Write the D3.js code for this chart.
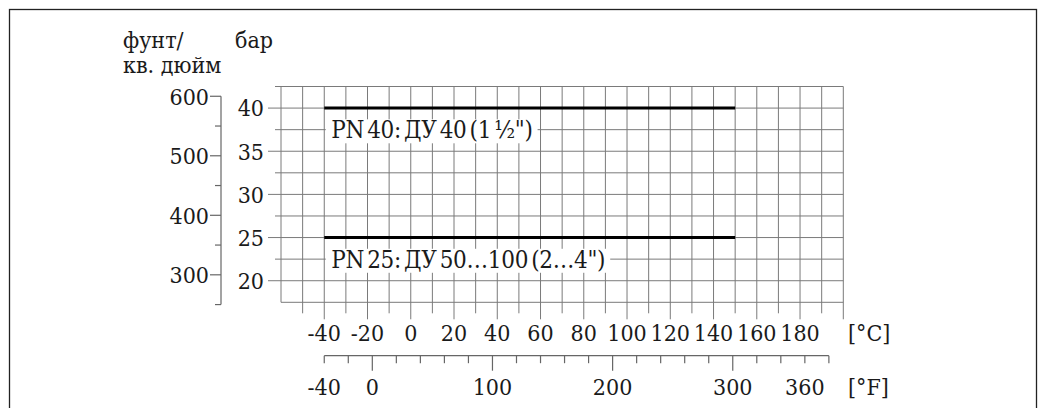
<!DOCTYPE html>
<html>
<head>
<meta charset="utf-8">
<script src="https://cdn.jsdelivr.net/npm/d3@7"></script>
<style>
  html, body { margin: 0; padding: 0; background: #fff; }
  svg text { font-family: "DejaVu Serif", serif; font-stretch: condensed; fill: #1a1a1a; }
</style>
</head>
<body>
<svg id="chart" width="1039" height="408"></svg>
<script>
// ---- data ----
const tempsC = [-40, 150];
const pn40Bar = [40, 40];
const pn25Bar = [25, 25];
const seriesLabels = ["PN 40: ДУ 40 (1 ½\")", "PN 25: ДУ 50…100 (2…4\")"];
const cTickLabels = [-40, -20, 0, 20, 40, 60, 80, 100, 120, 140, 160, 180];
const fTickLabels = [-40, 0, 100, 200, 300, 360];
const fMajorTicks = [0, 100, 200, 300];
const psiTickLabels = [300, 400, 500, 600];
const barTickLabels = [20, 25, 30, 35, 40];
const unitPsi = ["фунт/", "кв. дюйм"];
const unitBar = "бар";
const unitC = "[°C]";
const unitF = "[°F]";

// ---- layout ----
const svg = d3.select("#chart");
const PSI_PER_BAR = 14.5038;
const x = d3.scaleLinear().domain([-60, 200]).range([281, 843.3]);
const y = d3.scaleLinear().domain([17.5, 42.5]).range([302.3, 86.5]);
const xF = f => x((f - 32) * 5 / 9);
const yPsi = p => y(p / PSI_PER_BAR);
const gridCol = "#7a7a7a";
const TICK_FS = 23;

// frame
svg.append("rect").attr("x", 9.5).attr("y", 9.5).attr("width", 1027).attr("height", 430)
  .attr("fill", "none").attr("stroke", "#222").attr("stroke-width", 1.3);

// grid vertical
const vVals = d3.range(-60, 200.1, 10);
const g = svg.append("g");
g.selectAll("line.v").data(vVals).join("line")
  .attr("x1", d => x(d)).attr("x2", d => x(d))
  .attr("y1", y(42.5))
  .attr("y2", d => d === -60 ? y(17.5) : y(17.5) + (d % 20 === 0 ? 17 : 11))
  .attr("stroke", gridCol).attr("stroke-width", 1);
// grid horizontal
const hVals = d3.range(17.5, 42.6, 2.5);
g.selectAll("line.h").data(hVals).join("line")
  .attr("y1", d => y(d)).attr("y2", d => y(d))
  .attr("x1", d => d === 17.5 ? x(-60) : x(-60) - (d % 5 === 0 ? 13 : 6))
  .attr("x2", x(200))
  .attr("stroke", gridCol).attr("stroke-width", 1);

// series lines
const line = d3.line().x(d => x(d[0])).y(d => y(d[1]));
[pn40Bar, pn25Bar].forEach(vals => {
  svg.append("path").datum(tempsC.map((t, i) => [t, vals[i]]))
    .attr("d", line).attr("fill", "none").attr("stroke", "#000").attr("stroke-width", 3);
});

// series labels with white background
[[pn40Bar, 0], [pn25Bar, 1]].forEach(([vals, i]) => {
  const t = svg.append("text").attr("x", x(tempsC[0]) + 7).attr("y", y(vals[0] - 2.5))
    .attr("dy", "0.36em").attr("font-size", 24).attr("word-spacing", -3.5).attr("letter-spacing", -0.3)
    .text(seriesLabels[i]);
  const bb = t.node().getBBox();
  svg.insert("rect", () => t.node())
    .attr("x", x(tempsC[0]) + 1.5).attr("y", bb.y + 3)
    .attr("width", bb.x + bb.width + 5 - x(tempsC[0]) - 1.5).attr("height", bb.height - 4)
    .attr("fill", "#fff");
});

// bar axis labels
svg.selectAll("text.bar").data(barTickLabels).join("text")
  .attr("x", 264).attr("y", d => y(d)).attr("dy", "0.36em")
  .attr("text-anchor", "end").attr("font-size", TICK_FS).text(d => d);

// psi axis
const psiTicks = d3.range(250, 601, 50);
svg.append("line").attr("x1", 221).attr("x2", 221)
  .attr("y1", yPsi(600)).attr("y2", yPsi(250)).attr("stroke", "#666").attr("stroke-width", 1.2);
svg.selectAll("line.psi").data(psiTicks).join("line")
  .attr("x1", d => 221 - (d % 100 === 0 ? 11 : 6)).attr("x2", 221)
  .attr("y1", d => yPsi(d)).attr("y2", d => yPsi(d))
  .attr("stroke", "#666").attr("stroke-width", 1.2);
svg.selectAll("text.psi").data(psiTickLabels).join("text")
  .attr("x", 209).attr("y", d => yPsi(d)).attr("dy", "0.36em")
  .attr("text-anchor", "end").attr("font-size", TICK_FS).text(d => d);

// unit headers
svg.append("text").attr("x", 123).attr("y", 48).attr("font-size", 23).text(unitPsi[0]);
svg.append("text").attr("x", 123).attr("y", 73).attr("font-size", 23).text(unitPsi[1]);
svg.append("text").attr("x", 235).attr("y", 48).attr("font-size", 23).text(unitBar);

// °C labels
svg.selectAll("text.c").data(cTickLabels).join("text")
  .attr("x", d => x(d)).attr("y", 333).attr("dy", "0.36em")
  .attr("text-anchor", "middle").attr("font-size", TICK_FS).text(d => d);
svg.append("text").attr("x", 848).attr("y", 333).attr("dy", "0.36em")
  .attr("font-size", TICK_FS).text(unitC);

// °F axis
const fTicks = d3.range(-40, 381, 20);
const fy = 355.7;
svg.append("line").attr("x1", xF(-40)).attr("x2", xF(380)).attr("y1", fy).attr("y2", fy)
  .attr("stroke", "#666").attr("stroke-width", 1.2);
svg.selectAll("line.f").data(fTicks).join("line")
  .attr("x1", d => xF(d)).attr("x2", d => xF(d))
  .attr("y1", fy).attr("y2", d => fy + (fMajorTicks.includes(d) ? 15 : 7.5))
  .attr("stroke", "#666").attr("stroke-width", 1.2);
svg.selectAll("text.f").data(fTickLabels).join("text")
  .attr("x", d => xF(d)).attr("y", 386.7).attr("dy", "0.36em")
  .attr("text-anchor", "middle").attr("font-size", TICK_FS).text(d => d);
svg.append("text").attr("x", 848).attr("y", 386.7).attr("dy", "0.36em")
  .attr("font-size", TICK_FS).text(unitF);
</script>
</body>
</html>
